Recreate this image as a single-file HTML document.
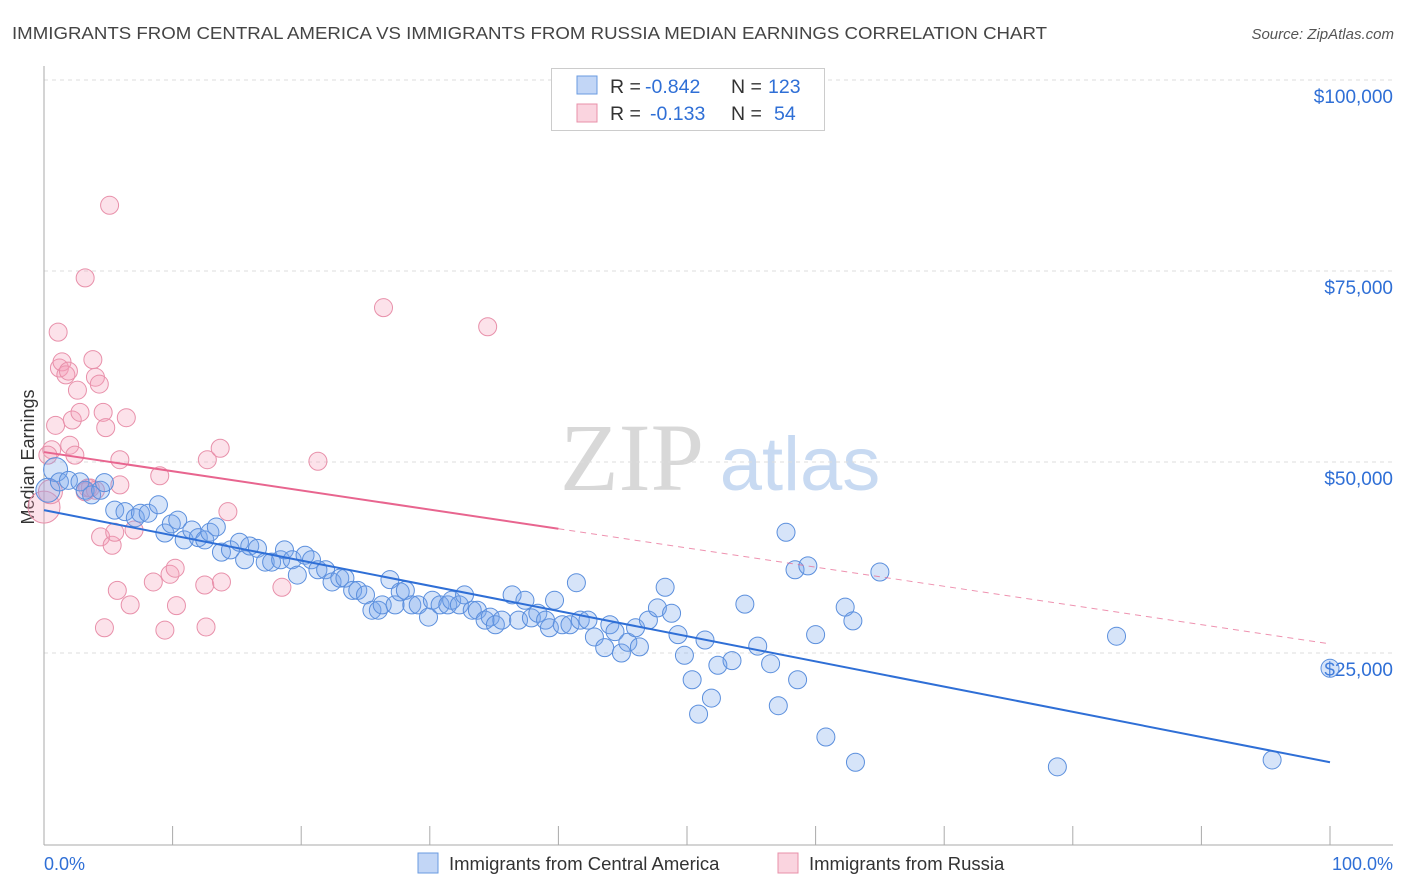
<!DOCTYPE html>
<html><head><meta charset="utf-8">
<style>
body{margin:0;background:#fff;font-family:"Liberation Sans",sans-serif;}
#wrap{position:relative;width:1406px;height:892px;overflow:hidden;}
</style></head>
<body>
<div id="wrap">
<svg id="svg" width="1406" height="892" xmlns="http://www.w3.org/2000/svg">
<text x="12" y="39" font-size="17.5" fill="#444" textLength="1035" lengthAdjust="spacingAndGlyphs">IMMIGRANTS FROM CENTRAL AMERICA VS IMMIGRANTS FROM RUSSIA MEDIAN EARNINGS CORRELATION CHART</text>
<text x="1394" y="39" font-size="15" fill="#555" font-style="italic" text-anchor="end">Source: ZipAtlas.com</text>
<text x="0" y="0" transform="translate(34,457) rotate(-90)" font-size="18" fill="#333" text-anchor="middle">Median Earnings</text>
<g>
<text x="632" y="490" font-family="Liberation Serif,serif" font-size="96" fill="#d8d8d8" text-anchor="middle">ZIP</text>
<text x="800" y="490" font-size="76" fill="#c8daf2" text-anchor="middle">atlas</text>
</g>
<g id="grid"></g>
<g id="marks"></g>
<g id="legend-top">
<rect x="551.5" y="68.5" width="273" height="62" fill="#fff" stroke="#ccc"/>
<rect x="577" y="76" width="20" height="18" fill="rgba(120,165,235,0.45)" stroke="#6a9be0"/>
<rect x="577" y="104" width="20" height="18" fill="rgba(245,160,185,0.45)" stroke="#e890aa"/>
<text y="93" font-size="19.5" fill="#333"><tspan x="610">R = </tspan><tspan x="645" fill="#2f6fd6">-0.842</tspan><tspan x="731">N = </tspan><tspan x="768" fill="#2f6fd6">123</tspan></text>
<text y="120" font-size="19.5" fill="#333"><tspan x="610">R = </tspan><tspan x="650" fill="#2f6fd6">-0.133</tspan><tspan x="731">N = </tspan><tspan x="774" fill="#2f6fd6">54</tspan></text>
</g>
<g>
<rect x="418" y="853" width="20" height="20" fill="rgba(120,165,235,0.45)" stroke="#6a9be0"/>
<text x="449" y="870" font-size="18.5" fill="#333">Immigrants from Central America</text>
<rect x="778" y="853" width="20" height="20" fill="rgba(245,160,185,0.45)" stroke="#e890aa"/>
<text x="809" y="870" font-size="18.5" fill="#333">Immigrants from Russia</text>
</g>
<text x="44" y="870" font-size="18" fill="#2f6fd6">0.0%</text>
<text x="1393" y="870" font-size="18" fill="#2f6fd6" text-anchor="end">100.0%</text>
</svg>
</div>
<script>
const yTicks=[100000,75000,50000,25000];
const yTickLabels=["$100,000","$75,000","$50,000","$25,000"];
const blueX=[0.9,0.3,1.2,1.9,2.8,3.2,3.7,4.4,4.7,5.5,6.3,7.1,7.5,8.1,8.9,9.4,9.9,10.4,10.9,11.5,12.0,12.5,12.9,13.4,13.8,14.5,15.2,15.6,16.0,16.6,17.2,17.7,18.4,18.7,19.3,19.7,20.3,20.8,21.3,21.9,22.4,23.0,23.4,24.0,24.4,25.0,25.5,26.0,26.3,26.9,27.3,27.7,28.1,28.6,29.1,29.9,30.2,30.8,31.4,31.7,32.3,32.7,33.3,33.7,34.3,34.7,35.1,35.6,36.4,36.9,37.4,37.9,38.4,39.0,39.3,39.7,40.3,40.9,41.4,41.7,42.3,42.8,43.6,44.0,44.4,44.9,45.4,46.0,46.3,47.0,47.7,48.3,48.8,49.3,49.8,50.4,50.9,51.4,51.9,52.4,53.5,54.5,55.5,56.5,57.1,57.7,58.4,58.6,59.4,60.0,60.8,62.3,63.1,62.9,65.0,78.8,83.4,95.5,100];
const blueY=[49.0,46.3,47.4,47.6,47.4,46.3,45.7,46.3,47.3,43.7,43.5,42.7,43.3,43.3,44.4,40.7,41.9,42.4,39.8,41.1,40.1,39.8,40.8,41.5,38.2,38.5,39.5,37.2,39.0,38.7,36.9,36.9,37.2,38.5,37.2,35.2,37.8,37.2,35.9,35.9,34.3,34.8,34.8,33.2,33.2,32.6,30.6,30.6,31.3,34.6,31.3,33.0,33.2,31.3,31.3,29.7,31.9,31.3,31.3,31.9,31.3,32.6,30.6,30.6,29.3,29.7,28.7,29.3,32.6,29.3,31.9,29.6,30.2,29.3,28.3,31.9,28.7,28.7,34.2,29.3,29.3,27.1,25.7,28.7,27.8,25.0,26.4,28.3,25.8,29.3,30.9,33.6,30.2,27.4,24.7,21.5,17.0,26.7,19.1,23.4,24.0,31.4,25.9,23.6,18.1,40.8,35.9,21.5,36.4,27.4,14.0,31.0,10.7,29.2,35.6,10.1,27.2,11.0,23.0];
const pinkX=[0,0.5,0.6,0.9,1.1,1.2,1.4,1.7,1.9,2.0,2.2,2.4,2.6,2.8,3.2,3.4,3.6,3.8,4.0,4.3,4.4,4.6,4.8,5.1,5.3,5.5,5.7,5.9,6.4,6.7,7.0,8.5,9.0,9.4,9.8,10.2,10.3,12.5,12.6,12.7,13.7,13.8,14.3,18.5,21.3,26.4,34.5,5.9,3.2,4.0,4.7,0.3];
const pinkY=[44.1,46.1,51.6,54.8,67.0,62.3,63.1,61.4,61.9,52.2,55.5,50.9,59.4,56.5,74.1,46.6,46.6,63.4,61.1,60.2,40.2,56.5,54.5,83.6,39.1,40.8,33.2,50.3,55.8,31.3,41.1,34.3,48.2,28.0,35.3,36.1,31.2,33.9,28.4,50.3,51.8,34.3,43.5,33.6,50.1,70.2,67.7,47.0,46.1,46.3,28.3,50.9];
const blueTrend=[43.7,10.7];
const pinkTrend=[51.3,26.2];
const pinkSolidEnd=40;

const X0=44,X1=1330,YTOP=80,YBOT=844;
function sx(p){return X0+(X1-X0)*p/100;}
function sy(v){return YBOT-(YBOT-YTOP)*v/100000;}
const NS="http://www.w3.org/2000/svg";
function mk(tag,attrs,parent){const e=document.createElementNS(NS,tag);for(const k in attrs)e.setAttribute(k,attrs[k]);parent.appendChild(e);return e;}
const grid=document.getElementById('grid'),marks=document.getElementById('marks');
yTicks.forEach((t,i)=>{
 const l=mk('line',{x1:X0,x2:1393,y1:sy(t),y2:sy(t),stroke:'#ddd','stroke-dasharray':'4,4'},grid);
 
 
 const tx=mk('text',{x:1393,y:sy(t)+23,'font-size':19,fill:'#2f6fd6','text-anchor':'end'},grid);
 tx.textContent=yTickLabels[i];
 
 
});
const ax=mk('line',{x1:X0,x2:X0,y1:66,y2:845,stroke:'#aaa'},grid);


const bx=mk('line',{x1:X0,x2:1393,y1:845,y2:845,stroke:'#aaa'},grid);


for(let i=0;i<=10;i++){
 const t=mk('line',{x1:sx(i*10),x2:sx(i*10),y1:826,y2:845,stroke:'#aaa'},grid);
 
 
}
function pts(xs,ys,fill,stroke,name){
 xs.forEach((x,i)=>{
  const r=(i<2&&x<1)?(name==='pink-point'&&i===0?16:12):9;
  const c=mk('circle',{cx:sx(x),cy:sy(ys[i]*1000),r:r,fill:fill,stroke:stroke,'stroke-width':1},marks);
  
  
 });
}
pts(pinkX,pinkY,'rgba(245,160,185,0.3)','#e890aa','pink-point');
pts(blueX,blueY,'rgba(120,165,235,0.3)','#5b8fdd','blue-point');
const pv=p=>pinkTrend[0]+(pinkTrend[1]-pinkTrend[0])*p/100;
const pl=mk('line',{x1:sx(0),y1:sy(pv(0)*1000),x2:sx(pinkSolidEnd),y2:sy(pv(pinkSolidEnd)*1000),stroke:'#e8658f','stroke-width':2},marks);


const pd=mk('line',{x1:sx(pinkSolidEnd),y1:sy(pv(pinkSolidEnd)*1000),x2:sx(100),y2:sy(pv(100)*1000),stroke:'#e8658f','stroke-width':1,'stroke-dasharray':'6,5',opacity:0.7},marks);


const bl=mk('line',{x1:sx(0),y1:sy(blueTrend[0]*1000),x2:sx(100),y2:sy(blueTrend[1]*1000),stroke:'#2f6fd6','stroke-width':2},marks);


</script>
</body></html>
